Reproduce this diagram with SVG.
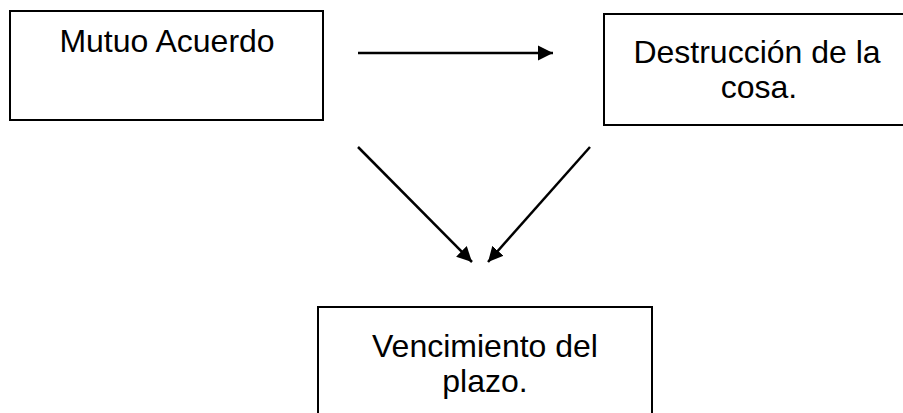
<svg xmlns="http://www.w3.org/2000/svg" width="903" height="413" viewBox="0 0 903 413">
<style>
.box{fill:#fff;stroke:#000;stroke-width:2}
.t{font-family:"Liberation Sans",Arial,sans-serif;font-size:32px;fill:#000;text-anchor:middle}
.c{stroke:#000;stroke-width:2.5;fill:none}
</style>
<defs>
<marker id="ah" markerUnits="userSpaceOnUse" markerWidth="16" markerHeight="16" refX="15" refY="8" orient="auto">
<path d="M0,0.5 L15,8 L0,15.5 Z" fill="#000"/>
</marker>
</defs>
<rect width="903" height="413" fill="#fff"/>
<g id="mutuo">
<rect class="box" x="10" y="11" width="313" height="109"/>
<text class="t" x="167" y="52">Mutuo Acuerdo</text>
</g>
<g id="destruccion">
<rect class="box" x="604" y="14" width="310" height="111"/>
<text class="t" x="757" y="63">Destrucción de la</text>
<text class="t" x="759" y="98">cosa.</text>
</g>
<g id="vencimiento">
<rect class="box" x="318" y="307" width="334" height="120"/>
<text class="t" x="485" y="357">Vencimiento del</text>
<text class="t" x="485" y="392">plazo.</text>
</g>
<g id="connectors">
<line class="c" x1="358" y1="53" x2="553" y2="53" marker-end="url(#ah)"/>
<line class="c" x1="358" y1="147" x2="472" y2="262" marker-end="url(#ah)"/>
<line class="c" x1="590" y1="147" x2="488" y2="262" marker-end="url(#ah)"/>
</g>
</svg>
